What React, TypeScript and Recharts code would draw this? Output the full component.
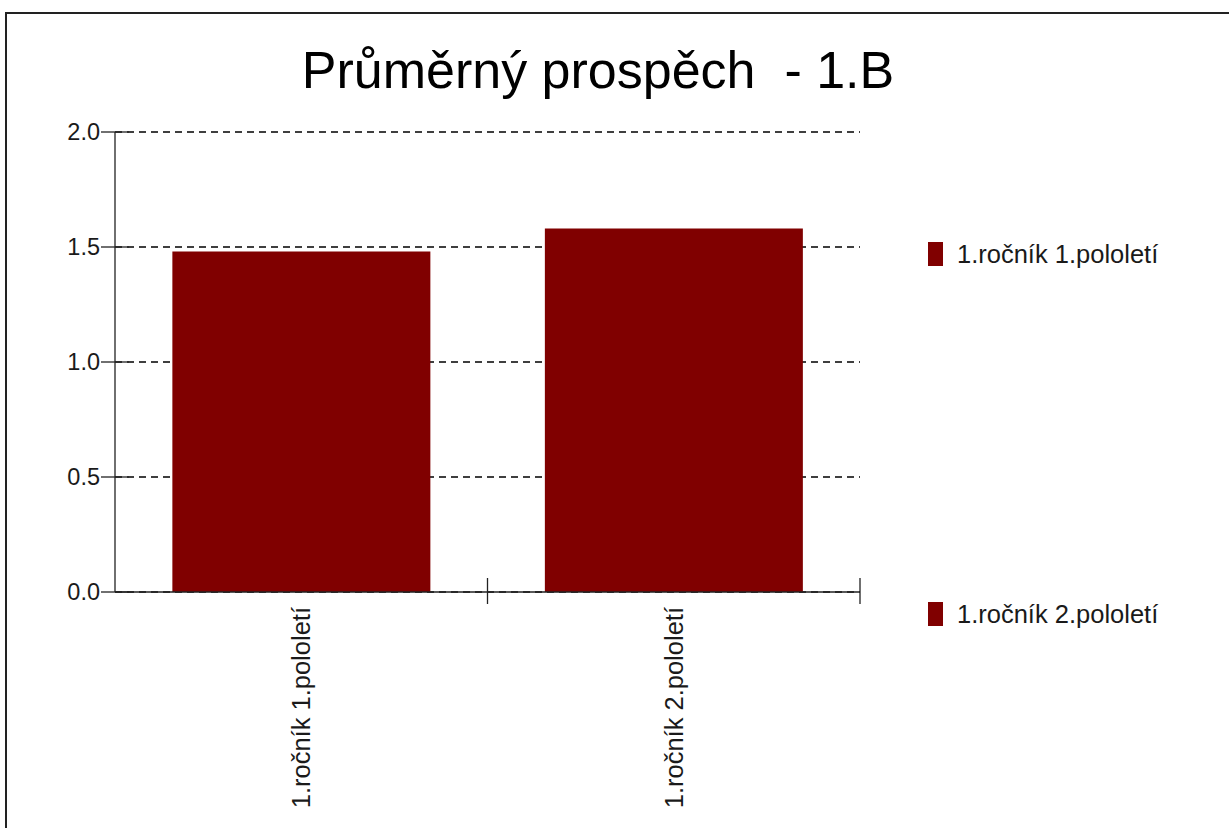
import { BarChart, Bar, XAxis, YAxis, CartesianGrid, Legend } from 'recharts';

const categories = ['1.ročník 1.pololetí', '1.ročník 2.pololetí'];
const averages = [1.48, 1.58];
const yTicks = [0, 0.5, 1, 1.5, 2];
const title = 'Průměrný prospěch  - 1.B';

const FONT = '"Liberation Sans", Arial, sans-serif';
const BAR_COLOR = '#800000';

// one series per category so the legend lists each semester
const data = categories.map((name, i) => {
  const row: Record<string, string | number | null> = { name };
  categories.forEach((_, j) => {
    row[`v${j}`] = i === j ? averages[i] : null;
  });
  return row;
});

// eslint-disable-next-line @typescript-eslint/no-explicit-any
const YTick = ({ x, y, payload }: any) => {
  const axisX = x + 15;
  return (
    <g>
      <line x1={axisX - 14} x2={axisX + 14} y1={y} y2={y} stroke="#222" strokeWidth={1.3} />
      <text x={x} y={y} dy="0.36em" textAnchor="end" fontSize={23.5} fill="#1a1a1a" fontFamily={FONT}>
        {Number(payload.value).toFixed(1)}
      </text>
    </g>
  );
};

// eslint-disable-next-line @typescript-eslint/no-explicit-any
const XTick = ({ x, y, payload }: any) => {
  const axisY = y - 15;
  const edge = x + (payload.offset ?? 0);
  return (
    <g>
      <line x1={edge} x2={edge} y1={axisY - 14} y2={axisY + 12} stroke="#222" strokeWidth={1.3} />
      <text
        transform={`translate(${x},${y}) rotate(-90)`}
        dy="0.35em"
        textAnchor="end"
        fontSize={25.5}
        fill="#1a1a1a"
        fontFamily={FONT}
      >
        {payload.value}
      </text>
    </g>
  );
};

// eslint-disable-next-line @typescript-eslint/no-explicit-any
const LegendContent = ({ payload }: any) => (
  <div style={{ fontFamily: FONT }}>
    {(payload ?? []).map((entry: any, i: number) => (
      <div
        key={entry.value}
        style={{ display: 'flex', alignItems: 'center', height: 24, marginTop: i === 0 ? 0 : 336 }}
      >
        <span style={{ width: 15, height: 24, background: BAR_COLOR, display: 'inline-block' }} />
        <span style={{ marginLeft: 14, fontSize: 25.5, color: '#1a1a1a', whiteSpace: 'nowrap' }}>
          {entry.value}
        </span>
      </div>
    ))}
  </div>
);

export default function App() {
  return (
    <div style={{ position: 'absolute', left: 0, top: 0, width: 1229, height: 828, overflow: 'hidden', background: '#fff' }}>
      <div style={{ position: 'absolute', left: 5, top: 12, width: 1300, height: 900, border: '2px solid #222' }} />
      <div
        style={{
          position: 'absolute', left: 0, top: 44, width: 1196, textAlign: 'center',
          fontFamily: FONT, fontSize: 52, lineHeight: '52px', whiteSpace: 'pre', color: '#000',
        }}
      >
        {title}
      </div>
      <div style={{ position: 'absolute', left: 0, top: 0 }}>
        <BarChart
          width={1229}
          height={828}
          data={data}
          margin={{ top: 132, left: 55, right: 369, bottom: 16 }}
          barCategoryGap="15.4%"
        >
          <CartesianGrid horizontal vertical={false} stroke="#000" strokeWidth={1.3} strokeDasharray="7 5" />
          <XAxis
            dataKey="name"
            height={220}
            tick={<XTick />}
            tickLine={false}
            tickSize={0}
            tickMargin={15}
            interval={0}
            axisLine={{ stroke: '#222', strokeWidth: 1.3 }}
          />
          <YAxis
            width={60}
            domain={[0, 2]}
            ticks={yTicks}
            tick={<YTick />}
            tickLine={false}
            tickSize={0}
            tickMargin={15}
            axisLine={{ stroke: '#222', strokeWidth: 1.3 }}
          />
          <Legend
            layout="vertical"
            align="center"
            verticalAlign="middle"
            content={<LegendContent />}
            wrapperStyle={{ left: 928, top: 242, width: 300 }}
          />
          {categories.map((name, j) => (
            <Bar key={name} dataKey={`v${j}`} name={name} stackId="a" fill={BAR_COLOR} isAnimationActive={false} />
          ))}
        </BarChart>
      </div>
    </div>
  );
}
